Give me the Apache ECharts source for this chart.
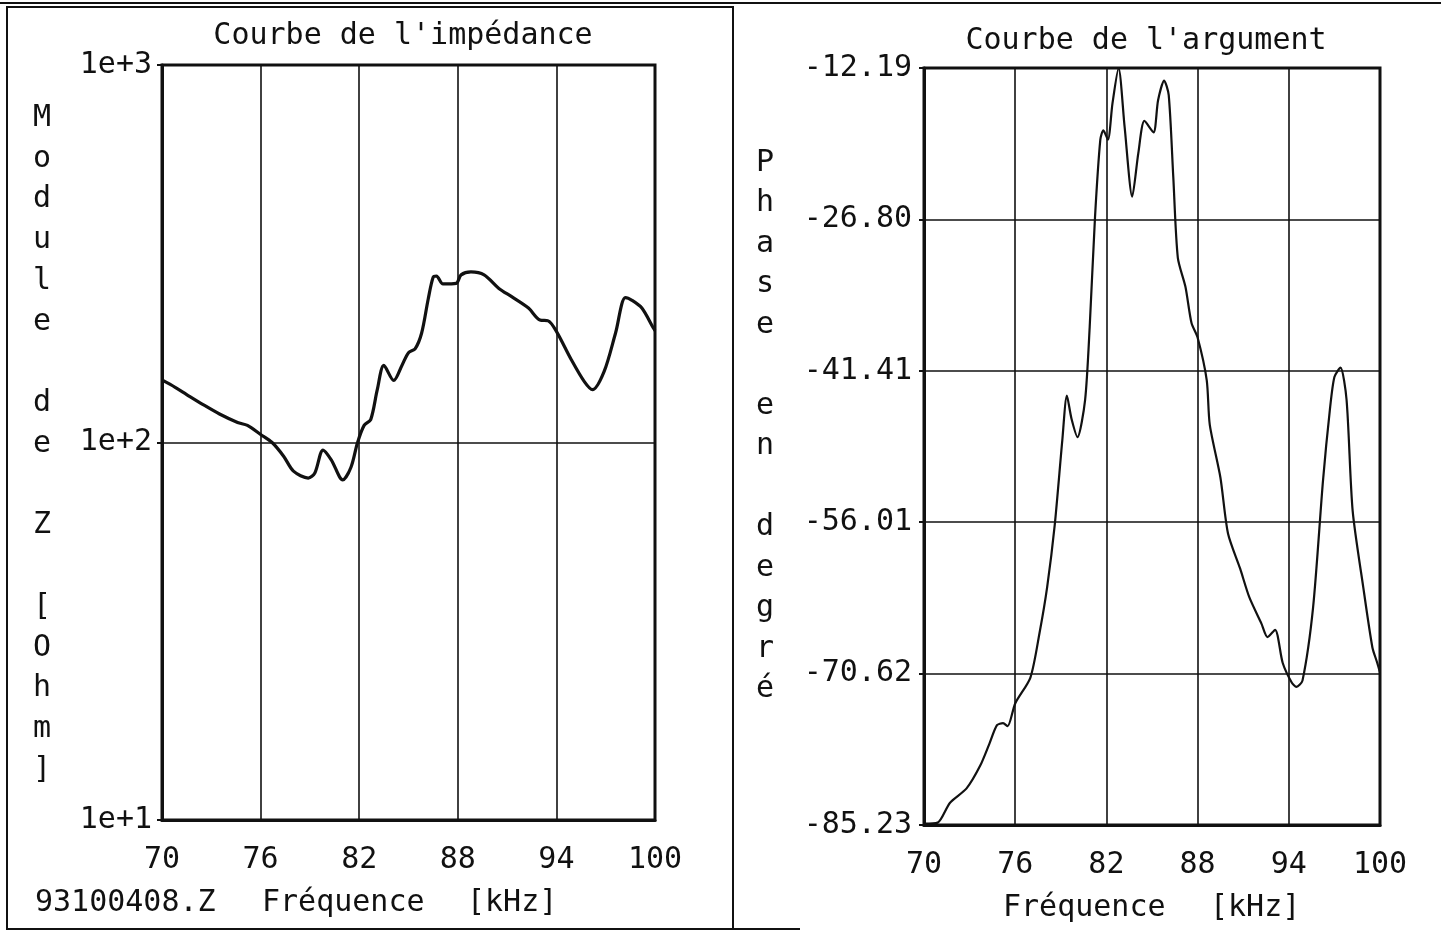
<!DOCTYPE html>
<html>
<head>
<meta charset="utf-8">
<script src="https://cdn.jsdelivr.net/npm/echarts@6/dist/echarts.min.js"></script>
<style>
  html, body { margin: 0; padding: 0; background: #fff; }
  #chart { width: 1441px; height: 934px; }
</style>
</head>
<body>
<div id="chart"></div>
<script>
// Impedance modulus |Z| (Ohm) versus frequency (kHz)
const impFreq = [70.05, 70.8, 71.5, 72.5, 73.5, 74.6, 75.2, 76.0, 76.7, 77.4, 78.0, 78.9, 79.3, 79.8, 80.3,
  81.0, 81.5, 81.9, 82.3, 82.7, 83.1, 83.5, 84.1, 84.6, 85.0, 85.4, 85.8, 86.2, 86.5, 86.7, 87.1, 87.9,
  88.2, 88.8, 89.6, 90.5, 91.3, 92.3, 93.0, 93.5, 94.0, 94.9, 95.7, 96.2, 96.9, 97.6, 98.2, 98.6, 99.2, 99.9, 100];
const impModule = [146, 140, 134, 126, 119, 113, 111, 105, 100, 92, 84, 80.5, 83, 95.5, 90,
  79.6, 86, 100, 111, 115, 138, 160, 146, 160, 173, 177, 195, 240, 274, 276, 263, 264,
  278, 283, 278, 256, 243, 227, 211, 210, 197, 166, 145, 138, 154, 195, 242, 238, 227, 201, 198];

// Phase (degrees) versus frequency (kHz)
const phaseFreq = [70.0, 70.9, 71.7, 72.8, 73.7, 74.3, 74.8, 75.2, 75.5, 76.0, 77.0, 77.6, 78.1, 78.6, 79.1,
  79.4, 79.7, 80.1, 80.6, 80.9, 81.25, 81.6, 81.8, 82.1, 82.4, 82.8, 83.2, 83.7, 84.1, 84.5, 85.1, 85.4,
  85.8, 86.1, 86.4, 86.7, 87.2, 87.6, 88.0, 88.6, 88.8, 89.5, 90.0, 90.8, 91.4, 92.2, 92.6, 93.1, 93.6,
  94.2, 94.5, 94.9, 95.6, 96.25, 96.7, 97.0, 97.4, 97.8, 98.2, 98.9, 99.5, 99.8, 100];
const phaseDeg = [-85.1, -85.0, -83.1, -81.7, -79.5, -77.4, -75.6, -75.4, -75.7, -73.5, -71.0, -66.7, -62.3, -56.3, -48.1,
  -43.8, -46.0, -47.8, -44.2, -37.2, -26.6, -19.1, -18.2, -19.1, -15.6, -12.2, -17.9, -24.6, -20.4, -17.3, -18.4, -15.3,
  -13.4, -14.8, -22.7, -30.5, -33.3, -36.8, -38.2, -42.3, -46.6, -51.7, -57.1, -60.5, -63.25, -65.8, -67.1, -66.4, -69.6,
  -71.5, -71.9, -71.3, -64.2, -52.0, -45.2, -42.0, -41.1, -44.2, -54.9, -62.3, -68.1, -69.5, -70.5];

// Tick values
const freqTicks = [70, 76, 82, 88, 94, 100];
const moduleTicks = [10, 100, 1000];
const phaseTicks = [-85.23, -70.62, -56.01, -41.41, -26.80, -12.19];

const FONT = 'DejaVu Sans Mono';
const INK = '#111';
const FS = 30;

const zip = (a, b) => a.map((v, i) => [v, b[i]]);

function xAxisFor(gridIndex) {
  return {
    type: 'value', gridIndex, min: 70, max: 100,
    axisLine: { show: true, lineStyle: { color: INK, width: 3 } },
    axisTick: { show: false, customValues: freqTicks },
    axisLabel: { customValues: freqTicks, color: INK, fontFamily: FONT, fontSize: FS, margin: 25 },
    splitLine: { show: true, lineStyle: { color: INK, width: 1.6 } }
  };
}

const chart = echarts.init(document.getElementById('chart'), null, { renderer: 'canvas' });

chart.setOption({
  backgroundColor: '#fff',
  animation: false,
  grid: [
    { left: 162, top: 65, width: 493, height: 755, show: true, borderColor: INK, borderWidth: 3, backgroundColor: 'transparent' },
    { left: 924, top: 68, width: 456, height: 757, show: true, borderColor: INK, borderWidth: 3, backgroundColor: 'transparent' }
  ],
  xAxis: [xAxisFor(0), xAxisFor(1)],
  yAxis: [
    {
      type: 'log', gridIndex: 0, logBase: 10, min: 10, max: 1000,
      axisLine: { show: true, lineStyle: { color: INK, width: 3 } },
      axisTick: { show: true, inside: false, length: 5, customValues: moduleTicks, lineStyle: { color: INK, width: 2 } },
      axisLabel: {
        customValues: moduleTicks, color: INK, fontFamily: FONT, fontSize: FS, margin: 10,
        formatter: v => '1e+' + Math.round(Math.log10(v))
      },
      splitLine: { show: true, lineStyle: { color: INK, width: 1.6 } },
      minorTick: { show: false }, minorSplitLine: { show: false }
    },
    {
      type: 'value', gridIndex: 1, min: -85.23, max: -12.19,
      axisLine: { show: true, lineStyle: { color: INK, width: 3 } },
      axisTick: { show: true, inside: false, length: 5, customValues: phaseTicks, lineStyle: { color: INK, width: 2 } },
      axisLabel: {
        customValues: phaseTicks, color: INK, fontFamily: FONT, fontSize: FS, margin: 12,
        formatter: v => v.toFixed(2)
      },
      splitLine: { show: true, lineStyle: { color: INK, width: 1.6 } }
    }
  ],
  series: [
    {
      type: 'line', xAxisIndex: 0, yAxisIndex: 0, data: zip(impFreq, impModule),
      showSymbol: false, smooth: 0.3, lineStyle: { color: INK, width: 3.2 }
    },
    {
      type: 'line', xAxisIndex: 1, yAxisIndex: 1, data: zip(phaseFreq, phaseDeg),
      showSymbol: false, smooth: 0.25, lineStyle: { color: INK, width: 2.2 }
    }
  ],
  graphic: [
    // page frames
    { type: 'line', shape: { x1: 0, y1: 3, x2: 1441, y2: 3 }, style: { stroke: INK, lineWidth: 2 } },
    { type: 'rect', shape: { x: 7, y: 7, width: 726, height: 922 }, style: { fill: 'none', stroke: INK, lineWidth: 2 } },
    { type: 'line', shape: { x1: 733, y1: 929, x2: 800, y2: 929 }, style: { stroke: INK, lineWidth: 2 } },
    // titles
    { type: 'text', x: 403, y: 36, style: { text: "Courbe de l'impédance", font: FS + 'px ' + FONT, fill: INK, align: 'center', verticalAlign: 'middle' } },
    { type: 'text', x: 1146, y: 41, style: { text: "Courbe de l'argument", font: FS + 'px ' + FONT, fill: INK, align: 'center', verticalAlign: 'middle' } },
    // vertical axis names, one letter per line
    { type: 'text', x: 42, y: 97.6, style: {
      text: ['M', 'o', 'd', 'u', 'l', 'e', '', 'd', 'e', '', 'Z', '', '[', 'O', 'h', 'm', ']'].join('\n'),
      font: FS + 'px ' + FONT, lineHeight: 40.75, fill: INK, align: 'center', verticalAlign: 'top' } },
    { type: 'text', x: 765, y: 142.8, style: {
      text: ['P', 'h', 'a', 's', 'e', '', 'e', 'n', '', 'd', 'e', 'g', 'r', 'é'].join('\n'),
      font: FS + 'px ' + FONT, lineHeight: 40.5, fill: INK, align: 'center', verticalAlign: 'top' } },
    // frequency axis names
    { type: 'text', x: 35, y: 903, style: { text: '93100408.Z', font: FS + 'px ' + FONT, fill: INK, align: 'left', verticalAlign: 'middle' } },
    { type: 'text', x: 262, y: 903, style: { text: 'Fréquence', font: FS + 'px ' + FONT, fill: INK, align: 'left', verticalAlign: 'middle' } },
    { type: 'text', x: 467, y: 903, style: { text: '[kHz]', font: FS + 'px ' + FONT, fill: INK, align: 'left', verticalAlign: 'middle' } },
    { type: 'text', x: 1003, y: 908, style: { text: 'Fréquence', font: FS + 'px ' + FONT, fill: INK, align: 'left', verticalAlign: 'middle' } },
    { type: 'text', x: 1210, y: 908, style: { text: '[kHz]', font: FS + 'px ' + FONT, fill: INK, align: 'left', verticalAlign: 'middle' } }
  ]
});
</script>
</body>
</html>
